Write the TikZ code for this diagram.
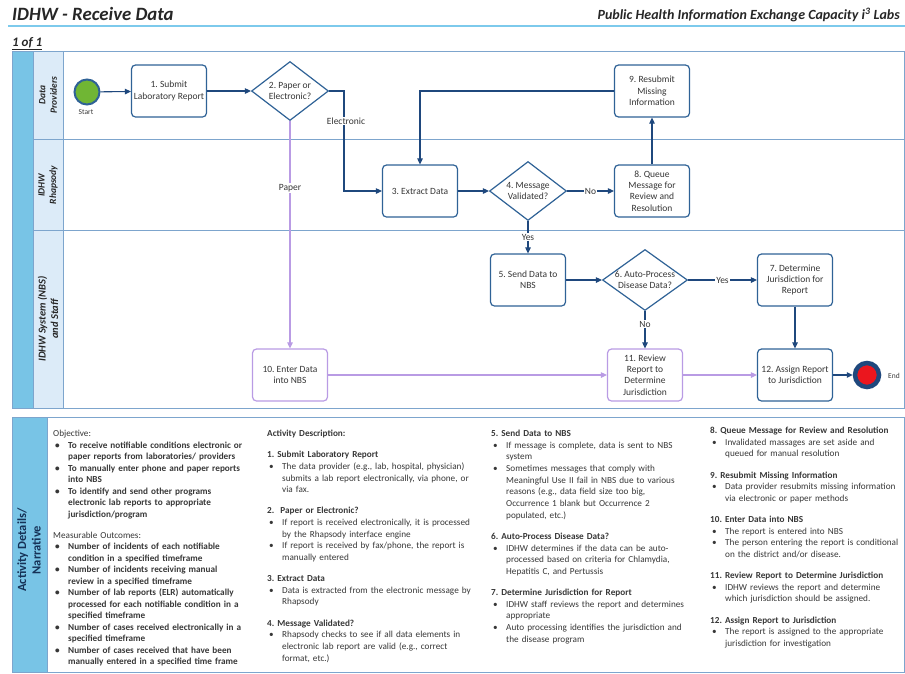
\documentclass[tikz,border=0pt]{standalone}
\usepackage{fontspec}
\setmainfont{Carlito}
\usepackage{enumitem}
\usetikzlibrary{arrows.meta,positioning,shapes.geometric}
\definecolor{laneband}{RGB}{120,196,230}
\definecolor{lanelabel}{RGB}{220,235,248}
\definecolor{laneline}{RGB}{125,165,205}
\definecolor{taskblue}{RGB}{47,98,150}
\definecolor{arrowblue}{RGB}{31,72,125}
\definecolor{paperpurple}{RGB}{185,155,228}
\definecolor{textgray}{RGB}{55,55,55}
\definecolor{startgreen}{RGB}{112,182,52}
\definecolor{endred}{RGB}{235,22,30}
\definecolor{headline}{RGB}{125,202,236}
\newcommand{\stepitems}{\begin{itemize}[nosep,leftmargin=15pt,labelwidth=8pt,labelsep=5pt,align=left,label=\textbullet]}
\newcommand{\gapline}{\par\vspace{9.5pt}}
\frenchspacing

\begin{document}
\begin{tikzpicture}[x=1pt,y=-1pt,
  every node/.style={font=\fontsize{9.5}{11.3}\selectfont,text=textgray},
  task/.style={draw=taskblue,line width=1.2pt,rounded corners=4pt,fill=white,
    minimum width=75pt,minimum height=52pt,align=center,inner sep=1pt},
  paper task/.style={task,draw=paperpurple},
  choice/.style={diamond,draw=taskblue,line width=1.2pt,fill=white,
    minimum width=77pt,minimum height=59pt,inner sep=0pt},
  choicetext/.style={align=center,inner sep=0pt},
  arr/.style={draw=arrowblue,line width=1.1pt,-{Triangle[length=6pt,width=5.5pt]}},
  parr/.style={draw=paperpurple,line width=1.1pt,-{Triangle[length=6pt,width=5.5pt]}},
  lbl/.style={fill=white,inner sep=1pt},
  lanename/.style={rotate=90,align=center,font=\fontsize{9.5}{11.5}\selectfont\bfseries\itshape,text=black!85},
  narr/.style={anchor=north west,inner sep=0pt,font=\fontsize{9.2}{11.65}\selectfont,text=textgray}]
\useasboundingbox (0,0) rectangle (905,673);

% header
\node[anchor=base west,inner sep=0pt,font=\fontsize{18.8}{21}\selectfont\bfseries\itshape,text=black!85] (title) at (12,20) {IDHW - Receive Data};
\node[anchor=base east,inner sep=0pt,font=\fontsize{14}{16}\selectfont\bfseries\itshape,text=black!85] (program) at (900,19.5) {Public Health Information Exchange Capacity i\textsuperscript{3} Labs};
\draw[headline,line width=2.5pt] (8,26) -- (905,26);
\node[anchor=base west,inner sep=0pt,font=\fontsize{13}{15}\selectfont\bfseries\itshape,text=black!85] (page) at (12,46) {\underline{1 of 1}};

% swimlanes
\fill[laneband] (12,51) rectangle (33,408);
\fill[lanelabel] (33,51) rectangle (63,408);
\draw[laneline,line width=1pt] (12,51) rectangle (904,408);
\draw[laneline,line width=1pt] (33,51) -- (33,408);
\draw[laneline,line width=1pt] (63,51) -- (63,408);
\draw[laneline,line width=1pt] (33,139) -- (904,139);
\draw[laneline,line width=1pt] (33,230) -- (904,230);
\node[lanename] (laneA) at (48,95) {Data\\Providers};
\node[lanename] (laneB) at (48,185) {IDHW\\Rhapsody};
\node[lanename,font=\fontsize{10.5}{12.5}\selectfont\bfseries\itshape] (laneC) at (48,319) {IDHW System (NBS)\\and Staff};

% events
\node[circle,draw=taskblue,line width=2pt,fill=startgreen,minimum size=25pt,inner sep=0pt] (start) at (87,92) {};
\node[font=\fontsize{7.5}{8}\selectfont] (startlbl) at (86,112) {Start};
\node[circle,draw=arrowblue,line width=4.5pt,fill=endred,minimum size=24pt,inner sep=0pt] (end) at (867,375) {};
\node[font=\fontsize{7.5}{8}\selectfont] (endlbl) at (894,376) {End};

% tasks and choices
\node[task] (n1) at (169,91) {1. Submit\\Laboratory Report};
\node[choice] (d2) at (290,91) {};
\node[choicetext] (d2t) at (d2) {2. Paper or\\Electronic?};
\node[task] (n9) at (652,91) {9. Resubmit\\Missing\\Information};
\node[task] (n3) at (420,191) {3. Extract Data};
\node[choice] (d4) at (528,191) {};
\node[choicetext] (d4t) at (d4) {4. Message\\Validated?};
\node[task] (n8) at (652,191) {8. Queue\\Message for\\Review and\\Resolution};
\node[task] (n5) at (528,280) {5. Send Data to\\NBS};
\node[choice,minimum width=85pt,minimum height=61pt] (d6) at (645,280) {};
\node[choicetext] (d6t) at (d6) {6. Auto-Process\\Disease Data?};
\node[task] (n7) at (795,280) {7. Determine\\Jurisdiction for\\Report};
\node[paper task] (n10) at (290,375) {10. Enter Data\\into NBS};
\node[paper task] (n11) at (645,375) {11. Review\\Report to\\Determine\\Jurisdiction};
\node[task] (n12) at (795,375) {12. Assign Report\\to Jurisdiction};

% connectors
\coordinate (elbow) at (344,91);
\draw[arr] (start) -- (n1);
\draw[arr] (n1) -- (d2);
\draw[arr] (d2.east) -- (elbow) |- (n3.west);
\node[lbl] (elec) at (346,121) {Electronic};
\draw[parr] (d2.south) -- (n10.north);
\node[lbl] (paper) at (290,188) {Paper};
\draw[arr] (n9.west) -| (n3.north);
\draw[arr] (n3) -- (d4);
\draw[arr] (d4) -- node[lbl] {No} (n8);
\draw[arr] (n8) -- (n9);
\draw[arr] (d4) -- node[lbl] {Yes} (n5);
\draw[arr] (n5) -- (d6);
\draw[arr] (d6) -- node[lbl] {Yes} (n7);
\draw[arr] (d6) -- node[lbl,pos=0.35] {No} (n11);
\draw[arr] (n7) -- (n12);
\draw[parr] (n10) -- (n11);
\draw[parr] (n11) -- (n12);
\draw[arr] (n12) -- (end);

% narrative
\fill[laneband] (12,417) rectangle (47,672);
\draw[laneline,line width=1pt] (12,417) rectangle (904,672);
\draw[laneline,line width=1pt] (47,417) -- (47,672);
\node[rotate=90,align=center,font=\fontsize{12.5}{14.5}\selectfont\bfseries,text=arrowblue!70!black] (narrlbl) at (29,550) {Activity Details/\\Narrative};

\node[narr,text width=200pt,font=\fontsize{9.2}{11.5}\selectfont] (col1) at (53,430) {%
Objective:
\stepitems\bfseries
\item To receive notifiable conditions electronic or\newline paper reports from laboratories/ providers
\item To manually enter phone and paper reports\newline into NBS
\item To identify and send other programs\newline electronic lab reports to appropriate\newline jurisdiction/program
\end{itemize}\gapline
Measurable Outcomes:
\stepitems\bfseries
\item Number of incidents of each notifiable\newline condition in a specified timeframe
\item Number of incidents receiving manual\newline review in a specified timeframe
\item Number of lab reports (ELR) automatically\newline processed for each notifiable condition in a\newline specified timeframe
\item Number of cases received electronically in a\newline specified timeframe
\item Number of cases received that have been\newline manually entered in a specified time frame
\end{itemize}};

\node[narr,text width=215pt] (col2) at (267,430) {%
\textbf{Activity Description:}\gapline
\textbf{1. Submit Laboratory Report}
\stepitems
\item The data provider (e.g., lab, hospital, physician)\newline submits a lab report electronically, via phone, or\newline via fax.
\end{itemize}\gapline
\textbf{2.\ \ Paper or Electronic?}
\stepitems
\item If report is received electronically, it is processed\newline by the Rhapsody interface engine
\item If report is received by fax/phone, the report is\newline manually entered
\end{itemize}\gapline
\textbf{3. Extract Data}
\stepitems
\item Data is extracted from the electronic message by\newline Rhapsody
\end{itemize}\gapline
\textbf{4. Message Validated?}
\stepitems
\item Rhapsody checks to see if all data elements in\newline electronic lab report are valid (e.g., correct\newline format, etc.)
\end{itemize}};

\node[narr,text width=210pt] (col3) at (491,430) {%
\textbf{5. Send Data to NBS}
\stepitems
\item If message is complete, data is sent to NBS\newline system
\item Sometimes messages that comply with\newline Meaningful Use II fail in NBS due to various\newline reasons (e.g., data field size too big,\newline Occurrence 1 blank but Occurrence 2\newline populated, etc.)
\end{itemize}\gapline
\textbf{6. Auto-Process Disease Data?}
\stepitems
\item IDHW determines if the data can be auto-\newline processed based on criteria for Chlamydia,\newline Hepatitis C, and Pertussis
\end{itemize}\gapline
\textbf{7. Determine Jurisdiction for Report}
\stepitems
\item IDHW staff reviews the report and determines\newline appropriate
\item Auto processing identifies the jurisdiction and\newline the disease program
\end{itemize}};

\node[narr,text width=194pt] (col4) at (710,427) {%
\textbf{8. Queue Message for Review and Resolution}
\stepitems
\item Invalidated massages are set aside and\newline queued for manual resolution
\end{itemize}\gapline
\textbf{9. Resubmit Missing Information}
\stepitems
\item Data provider resubmits missing information\newline via electronic or paper methods
\end{itemize}\gapline
\textbf{10. Enter Data into NBS}
\stepitems
\item The report is entered into NBS
\item The person entering the report is conditional\newline on the district and/or disease.
\end{itemize}\gapline
\textbf{11. Review Report to Determine Jurisdiction}
\stepitems
\item IDHW reviews the report and determine\newline which jurisdiction should be assigned.
\end{itemize}\gapline
\textbf{12. Assign Report to Jurisdiction}
\stepitems
\item The report is assigned to the appropriate\newline jurisdiction for investigation
\end{itemize}};
\end{tikzpicture}
\end{document}
